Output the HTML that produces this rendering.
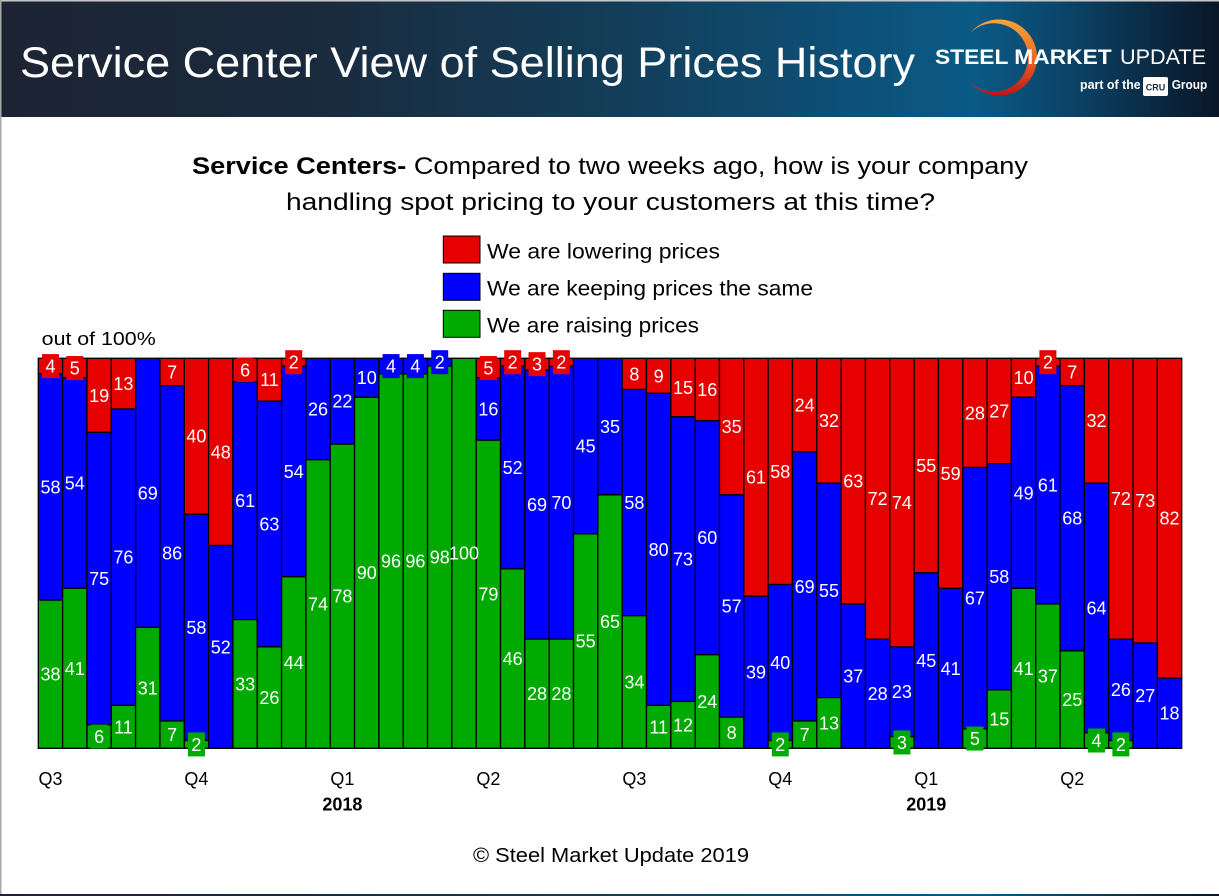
<!DOCTYPE html>
<html><head><meta charset="utf-8"><style>
html,body{margin:0;padding:0;background:#fff;}
svg{display:block;font-family:"Liberation Sans",sans-serif;}
.b rect{vector-effect:non-scaling-stroke;stroke:#000;stroke-width:1.3;}
.r{fill:#e60000}.u{fill:#0000ff}.g{fill:#00aa00}
.l text{fill:#fff;font-size:18px;text-anchor:middle;}
.ax{font-size:18px;fill:#000;text-anchor:middle;}
</style></head><body>
<svg width="1219" height="896" viewBox="0 0 1219 896" xmlns="http://www.w3.org/2000/svg">
<defs>
<linearGradient id="hg" x1="0" y1="0" x2="1" y2="0">
<stop offset="0" stop-color="#1c2434"/>
<stop offset="0.25" stop-color="#1a2a3d"/>
<stop offset="0.5" stop-color="#133d58"/>
<stop offset="0.7" stop-color="#0d5078"/>
<stop offset="0.8" stop-color="#0a5a86"/>
<stop offset="0.88" stop-color="#0b4266"/>
<stop offset="1" stop-color="#0a1627"/>
</linearGradient>
<linearGradient id="cg" x1="0" y1="0" x2="0" y2="1">
<stop offset="0" stop-color="#f7a535"/>
<stop offset="0.5" stop-color="#ef6a25"/>
<stop offset="1" stop-color="#bf1218"/>
</linearGradient>
</defs>
<rect x="0" y="0" width="1219" height="896" fill="#fff"/>
<rect x="0" y="0" width="1219" height="1.5" fill="#c8c8c8"/>
<rect x="0" y="0" width="1.5" height="896" fill="#a8a8a8"/>
<rect x="1.5" y="1.5" width="1217.5" height="115.5" fill="url(#hg)"/>
<rect x="0" y="894" width="1219" height="2" fill="url(#hg)"/>
<text x="20" y="77" font-size="43" fill="#fff" textLength="895" lengthAdjust="spacingAndGlyphs">Service Center View of Selling Prices History</text>
<path d="M970 33 A38 38 0 1 1 970 82 A34.2 34.2 0 1 0 970 33 Z" fill="url(#cg)"/>
<text x="935" y="64" font-size="21" font-weight="bold" fill="#fff" textLength="176.7" lengthAdjust="spacingAndGlyphs">STEEL MARKET</text>
<text x="1120" y="64" font-size="21" fill="#fff" textLength="86" lengthAdjust="spacingAndGlyphs">UPDATE</text>
<text x="1080" y="89" font-size="13" font-weight="bold" fill="#fff" textLength="60.7" lengthAdjust="spacingAndGlyphs">part of the</text>
<rect x="1143" y="77" width="25" height="19" rx="2" fill="#fff"/>
<text x="1155.5" y="90.5" font-size="9" font-weight="bold" fill="#1b2a3a" text-anchor="middle">CRU</text>
<text x="1171.7" y="89" font-size="13" font-weight="bold" fill="#fff" textLength="35.6" lengthAdjust="spacingAndGlyphs">Group</text>

<text x="192" y="174" font-size="24" fill="#000" textLength="836" lengthAdjust="spacingAndGlyphs"><tspan font-weight="bold">Service Centers-</tspan> Compared to two weeks ago, how is your company</text>
<text x="286" y="210" font-size="24" fill="#000" textLength="649" lengthAdjust="spacingAndGlyphs">handling spot pricing to your customers at this time?</text>

<rect x="443.3" y="236" width="36.7" height="27" class="r" stroke="#000" stroke-width="1"/>
<rect x="443.3" y="273.3" width="36.7" height="27" class="u" stroke="#000" stroke-width="1"/>
<rect x="443.3" y="310.3" width="36.7" height="27" class="g" stroke="#000" stroke-width="1"/>
<text x="487" y="258.3" font-size="21" textLength="233" lengthAdjust="spacingAndGlyphs">We are lowering prices</text>
<text x="487" y="295.7" font-size="21" textLength="326" lengthAdjust="spacingAndGlyphs">We are keeping prices the same</text>
<text x="487" y="332.7" font-size="21" textLength="212" lengthAdjust="spacingAndGlyphs">We are raising prices</text>

<text x="41.7" y="345" font-size="18" textLength="114" lengthAdjust="spacingAndGlyphs">out of 100%</text>

<g class="b" transform="translate(38.3 358.3) scale(24.328 3.9)">
<rect x="0" y="0" width="1" height="4" class="r"/><rect x="0" y="4" width="1" height="58" class="u"/><rect x="0" y="62" width="1" height="38" class="g"/>
<rect x="1" y="0" width="1" height="5" class="r"/><rect x="1" y="5" width="1" height="54" class="u"/><rect x="1" y="59" width="1" height="41" class="g"/>
<rect x="2" y="0" width="1" height="19" class="r"/><rect x="2" y="19" width="1" height="75" class="u"/><rect x="2" y="94" width="1" height="6" class="g"/>
<rect x="3" y="0" width="1" height="13" class="r"/><rect x="3" y="13" width="1" height="76" class="u"/><rect x="3" y="89" width="1" height="11" class="g"/>
<rect x="4" y="0" width="1" height="69" class="u"/><rect x="4" y="69" width="1" height="31" class="g"/>
<rect x="5" y="0" width="1" height="7" class="r"/><rect x="5" y="7" width="1" height="86" class="u"/><rect x="5" y="93" width="1" height="7" class="g"/>
<rect x="6" y="0" width="1" height="40" class="r"/><rect x="6" y="40" width="1" height="58" class="u"/><rect x="6" y="98" width="1" height="2" class="g"/>
<rect x="7" y="0" width="1" height="48" class="r"/><rect x="7" y="48" width="1" height="52" class="u"/>
<rect x="8" y="0" width="1" height="6" class="r"/><rect x="8" y="6" width="1" height="61" class="u"/><rect x="8" y="67" width="1" height="33" class="g"/>
<rect x="9" y="0" width="1" height="11" class="r"/><rect x="9" y="11" width="1" height="63" class="u"/><rect x="9" y="74" width="1" height="26" class="g"/>
<rect x="10" y="0" width="1" height="2" class="r"/><rect x="10" y="2" width="1" height="54" class="u"/><rect x="10" y="56" width="1" height="44" class="g"/>
<rect x="11" y="0" width="1" height="26" class="u"/><rect x="11" y="26" width="1" height="74" class="g"/>
<rect x="12" y="0" width="1" height="22" class="u"/><rect x="12" y="22" width="1" height="78" class="g"/>
<rect x="13" y="0" width="1" height="10" class="u"/><rect x="13" y="10" width="1" height="90" class="g"/>
<rect x="14" y="0" width="1" height="4" class="u"/><rect x="14" y="4" width="1" height="96" class="g"/>
<rect x="15" y="0" width="1" height="4" class="u"/><rect x="15" y="4" width="1" height="96" class="g"/>
<rect x="16" y="0" width="1" height="2" class="u"/><rect x="16" y="2" width="1" height="98" class="g"/>
<rect x="17" y="0" width="1" height="100" class="g"/>
<rect x="18" y="0" width="1" height="5" class="r"/><rect x="18" y="5" width="1" height="16" class="u"/><rect x="18" y="21" width="1" height="79" class="g"/>
<rect x="19" y="0" width="1" height="2" class="r"/><rect x="19" y="2" width="1" height="52" class="u"/><rect x="19" y="54" width="1" height="46" class="g"/>
<rect x="20" y="0" width="1" height="3" class="r"/><rect x="20" y="3" width="1" height="69" class="u"/><rect x="20" y="72" width="1" height="28" class="g"/>
<rect x="21" y="0" width="1" height="2" class="r"/><rect x="21" y="2" width="1" height="70" class="u"/><rect x="21" y="72" width="1" height="28" class="g"/>
<rect x="22" y="0" width="1" height="45" class="u"/><rect x="22" y="45" width="1" height="55" class="g"/>
<rect x="23" y="0" width="1" height="35" class="u"/><rect x="23" y="35" width="1" height="65" class="g"/>
<rect x="24" y="0" width="1" height="8" class="r"/><rect x="24" y="8" width="1" height="58" class="u"/><rect x="24" y="66" width="1" height="34" class="g"/>
<rect x="25" y="0" width="1" height="9" class="r"/><rect x="25" y="9" width="1" height="80" class="u"/><rect x="25" y="89" width="1" height="11" class="g"/>
<rect x="26" y="0" width="1" height="15" class="r"/><rect x="26" y="15" width="1" height="73" class="u"/><rect x="26" y="88" width="1" height="12" class="g"/>
<rect x="27" y="0" width="1" height="16" class="r"/><rect x="27" y="16" width="1" height="60" class="u"/><rect x="27" y="76" width="1" height="24" class="g"/>
<rect x="28" y="0" width="1" height="35" class="r"/><rect x="28" y="35" width="1" height="57" class="u"/><rect x="28" y="92" width="1" height="8" class="g"/>
<rect x="29" y="0" width="1" height="61" class="r"/><rect x="29" y="61" width="1" height="39" class="u"/>
<rect x="30" y="0" width="1" height="58" class="r"/><rect x="30" y="58" width="1" height="40" class="u"/><rect x="30" y="98" width="1" height="2" class="g"/>
<rect x="31" y="0" width="1" height="24" class="r"/><rect x="31" y="24" width="1" height="69" class="u"/><rect x="31" y="93" width="1" height="7" class="g"/>
<rect x="32" y="0" width="1" height="32" class="r"/><rect x="32" y="32" width="1" height="55" class="u"/><rect x="32" y="87" width="1" height="13" class="g"/>
<rect x="33" y="0" width="1" height="63" class="r"/><rect x="33" y="63" width="1" height="37" class="u"/>
<rect x="34" y="0" width="1" height="72" class="r"/><rect x="34" y="72" width="1" height="28" class="u"/>
<rect x="35" y="0" width="1" height="74" class="r"/><rect x="35" y="74" width="1" height="23" class="u"/><rect x="35" y="97" width="1" height="3" class="g"/>
<rect x="36" y="0" width="1" height="55" class="r"/><rect x="36" y="55" width="1" height="45" class="u"/>
<rect x="37" y="0" width="1" height="59" class="r"/><rect x="37" y="59" width="1" height="41" class="u"/>
<rect x="38" y="0" width="1" height="28" class="r"/><rect x="38" y="28" width="1" height="67" class="u"/><rect x="38" y="95" width="1" height="5" class="g"/>
<rect x="39" y="0" width="1" height="27" class="r"/><rect x="39" y="27" width="1" height="58" class="u"/><rect x="39" y="85" width="1" height="15" class="g"/>
<rect x="40" y="0" width="1" height="10" class="r"/><rect x="40" y="10" width="1" height="49" class="u"/><rect x="40" y="59" width="1" height="41" class="g"/>
<rect x="41" y="0" width="1" height="2" class="r"/><rect x="41" y="2" width="1" height="61" class="u"/><rect x="41" y="63" width="1" height="37" class="g"/>
<rect x="42" y="0" width="1" height="7" class="r"/><rect x="42" y="7" width="1" height="68" class="u"/><rect x="42" y="75" width="1" height="25" class="g"/>
<rect x="43" y="0" width="1" height="32" class="r"/><rect x="43" y="32" width="1" height="64" class="u"/><rect x="43" y="96" width="1" height="4" class="g"/>
<rect x="44" y="0" width="1" height="72" class="r"/><rect x="44" y="72" width="1" height="26" class="u"/><rect x="44" y="98" width="1" height="2" class="g"/>
<rect x="45" y="0" width="1" height="73" class="r"/><rect x="45" y="73" width="1" height="27" class="u"/>
<rect x="46" y="0" width="1" height="82" class="r"/><rect x="46" y="82" width="1" height="18" class="u"/>
</g>

<g class="bx">
<rect x="41.96" y="354.1" width="17" height="24" class="r"/>
<rect x="66.29" y="356.05" width="17" height="24" class="r"/>
<rect x="90.62" y="724.6" width="17" height="24" class="g"/>
<rect x="163.6" y="359.95" width="17" height="24" class="r"/>
<rect x="163.6" y="722.65" width="17" height="24" class="g"/>
<rect x="187.93" y="732.4" width="17" height="24" class="g"/>
<rect x="236.58" y="358.0" width="17" height="24" class="r"/>
<rect x="285.24" y="350.2" width="17" height="24" class="r"/>
<rect x="382.55" y="354.1" width="17" height="24" class="u"/>
<rect x="406.88" y="354.1" width="17" height="24" class="u"/>
<rect x="431.21" y="350.2" width="17" height="24" class="u"/>
<rect x="479.86" y="356.05" width="17" height="24" class="r"/>
<rect x="504.19" y="350.2" width="17" height="24" class="r"/>
<rect x="528.52" y="352.15" width="17" height="24" class="r"/>
<rect x="552.85" y="350.2" width="17" height="24" class="r"/>
<rect x="625.83" y="361.9" width="17" height="24" class="r"/>
<rect x="650.16" y="363.85" width="17" height="24" class="r"/>
<rect x="723.14" y="720.7" width="17" height="24" class="g"/>
<rect x="771.8" y="732.4" width="17" height="24" class="g"/>
<rect x="796.13" y="722.65" width="17" height="24" class="g"/>
<rect x="893.44" y="730.45" width="17" height="24" class="g"/>
<rect x="966.42" y="726.55" width="17" height="24" class="g"/>
<rect x="1039.41" y="350.2" width="17" height="24" class="r"/>
<rect x="1063.74" y="359.95" width="17" height="24" class="r"/>
<rect x="1088.06" y="728.5" width="17" height="24" class="g"/>
<rect x="1112.39" y="732.4" width="17" height="24" class="g"/>
</g>

<g class="l">
<text x="50.46" y="372.5">4</text><text x="50.46" y="493.4">58</text><text x="50.46" y="680.6">38</text>
<text x="74.79" y="374.45">5</text><text x="74.79" y="489.5">54</text><text x="74.79" y="674.75">41</text>
<text x="99.12" y="401.75">19</text><text x="99.12" y="585.05">75</text><text x="99.12" y="743.0">6</text>
<text x="123.44" y="390.05">13</text><text x="123.44" y="563.6">76</text><text x="123.44" y="733.25">11</text>
<text x="147.77" y="499.25">69</text><text x="147.77" y="694.25">31</text>
<text x="172.10" y="378.35">7</text><text x="172.10" y="559.7">86</text><text x="172.10" y="741.05">7</text>
<text x="196.43" y="442.7">40</text><text x="196.43" y="633.8">58</text><text x="196.43" y="750.8">2</text>
<text x="220.76" y="458.3">48</text><text x="220.76" y="653.3">52</text>
<text x="245.08" y="376.4">6</text><text x="245.08" y="507.05">61</text><text x="245.08" y="690.35">33</text>
<text x="269.41" y="386.15">11</text><text x="269.41" y="530.45">63</text><text x="269.41" y="704.0">26</text>
<text x="293.74" y="368.6">2</text><text x="293.74" y="477.8">54</text><text x="293.74" y="668.9">44</text>
<text x="318.07" y="415.4">26</text><text x="318.07" y="610.4">74</text>
<text x="342.40" y="407.6">22</text><text x="342.40" y="602.6">78</text>
<text x="366.72" y="384.2">10</text><text x="366.72" y="579.2">90</text>
<text x="391.05" y="372.5">4</text><text x="391.05" y="567.5">96</text>
<text x="415.38" y="372.5">4</text><text x="415.38" y="567.5">96</text>
<text x="439.71" y="368.6">2</text><text x="439.71" y="563.6">98</text>
<text x="464.04" y="559.7">100</text>
<text x="488.36" y="374.45">5</text><text x="488.36" y="415.4">16</text><text x="488.36" y="600.65">79</text>
<text x="512.69" y="368.6">2</text><text x="512.69" y="473.9">52</text><text x="512.69" y="665.0">46</text>
<text x="537.02" y="370.55">3</text><text x="537.02" y="510.95">69</text><text x="537.02" y="700.1">28</text>
<text x="561.35" y="368.6">2</text><text x="561.35" y="509.0">70</text><text x="561.35" y="700.1">28</text>
<text x="585.68" y="452.45">45</text><text x="585.68" y="647.45">55</text>
<text x="610.00" y="432.95">35</text><text x="610.00" y="627.95">65</text>
<text x="634.33" y="380.3">8</text><text x="634.33" y="509.0">58</text><text x="634.33" y="688.4">34</text>
<text x="658.66" y="382.25">9</text><text x="658.66" y="555.8">80</text><text x="658.66" y="733.25">11</text>
<text x="682.99" y="393.95">15</text><text x="682.99" y="565.55">73</text><text x="682.99" y="731.3">12</text>
<text x="707.32" y="395.9">16</text><text x="707.32" y="544.1">60</text><text x="707.32" y="707.9">24</text>
<text x="731.64" y="432.95">35</text><text x="731.64" y="612.35">57</text><text x="731.64" y="739.1">8</text>
<text x="755.97" y="483.65">61</text><text x="755.97" y="678.65">39</text>
<text x="780.30" y="477.8">58</text><text x="780.30" y="668.9">40</text><text x="780.30" y="750.8">2</text>
<text x="804.63" y="411.5">24</text><text x="804.63" y="592.85">69</text><text x="804.63" y="741.05">7</text>
<text x="828.96" y="427.1">32</text><text x="828.96" y="596.75">55</text><text x="828.96" y="729.35">13</text>
<text x="853.28" y="487.55">63</text><text x="853.28" y="682.55">37</text>
<text x="877.61" y="505.1">72</text><text x="877.61" y="700.1">28</text>
<text x="901.94" y="509.0">74</text><text x="901.94" y="698.15">23</text><text x="901.94" y="748.85">3</text>
<text x="926.27" y="471.95">55</text><text x="926.27" y="666.95">45</text>
<text x="950.60" y="479.75">59</text><text x="950.60" y="674.75">41</text>
<text x="974.92" y="419.3">28</text><text x="974.92" y="604.55">67</text><text x="974.92" y="744.95">5</text>
<text x="999.25" y="417.35">27</text><text x="999.25" y="583.1">58</text><text x="999.25" y="725.45">15</text>
<text x="1023.58" y="384.2">10</text><text x="1023.58" y="499.25">49</text><text x="1023.58" y="674.75">41</text>
<text x="1047.91" y="368.6">2</text><text x="1047.91" y="491.45">61</text><text x="1047.91" y="682.55">37</text>
<text x="1072.24" y="378.35">7</text><text x="1072.24" y="524.6">68</text><text x="1072.24" y="705.95">25</text>
<text x="1096.56" y="427.1">32</text><text x="1096.56" y="614.3">64</text><text x="1096.56" y="746.9">4</text>
<text x="1120.89" y="505.1">72</text><text x="1120.89" y="696.2">26</text><text x="1120.89" y="750.8">2</text>
<text x="1145.22" y="507.05">73</text><text x="1145.22" y="702.05">27</text>
<text x="1169.55" y="524.6">82</text><text x="1169.55" y="719.6">18</text>
</g>

<g class="ax">
<text x="50.46" y="785">Q3</text>
<text x="196.43" y="785">Q4</text>
<text x="342.40" y="785">Q1</text>
<text x="488.36" y="785">Q2</text>
<text x="634.33" y="785">Q3</text>
<text x="780.30" y="785">Q4</text>
<text x="926.27" y="785">Q1</text>
<text x="1072.24" y="785">Q2</text>
<text x="342.40" y="810.5" font-weight="bold">2018</text>
<text x="926.27" y="810.5" font-weight="bold">2019</text>
</g>

<text x="473" y="862" font-size="20" fill="#000" textLength="276" lengthAdjust="spacingAndGlyphs">© Steel Market Update 2019</text>
</svg>
</body></html>
